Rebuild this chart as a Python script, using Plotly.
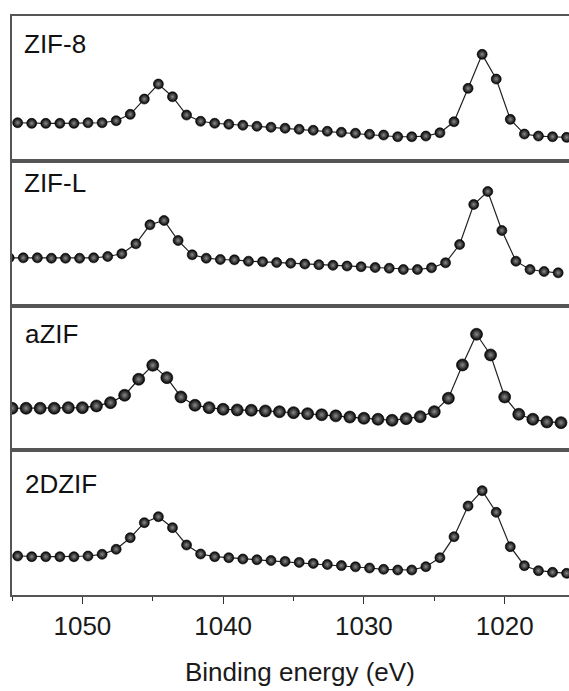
import plotly.graph_objects as go
from plotly.subplots import make_subplots

# ---------------- data (binding energy in eV, intensity in a.u.) ----------------
x_zif8 = [1054.6, 1053.6, 1052.6, 1051.6, 1050.6, 1049.6, 1048.6, 1047.6, 1046.6, 1045.6,
          1044.6, 1043.6, 1042.6, 1041.6, 1040.6, 1039.6, 1038.6, 1037.6, 1036.6, 1035.6,
          1034.6, 1033.6, 1032.6, 1031.6, 1030.6, 1029.6, 1028.6, 1027.6, 1026.6, 1025.6,
          1024.6, 1023.6, 1022.6, 1021.6, 1020.6, 1019.6, 1018.6, 1017.6, 1016.6, 1015.6]
y_zif8 = [38, 37.4, 37.4, 37.4, 37.4, 38, 38, 40, 46.4, 61.7,
          76.7, 64, 45.7, 39.5, 37.5, 36.5, 35.5, 34.5, 33.5, 32.5,
          31.5, 30.5, 29.5, 28.5, 27.5, 26.5, 25.7, 24, 24, 24.7,
          28, 39, 72.4, 106.4, 81.7, 41.4, 26.7, 24.7, 24, 23.4]

x_zifl = [1055.2, 1054.2, 1053.2, 1052.2, 1051.2, 1050.2, 1049.2, 1048.2, 1047.2, 1046.2,
          1045.2, 1044.2, 1043.2, 1042.2, 1041.2, 1040.2, 1039.2, 1038.2, 1037.2, 1036.2,
          1035.2, 1034.2, 1033.2, 1032.2, 1031.2, 1030.2, 1029.2, 1028.2, 1027.2, 1026.2,
          1025.2, 1024.2, 1023.2, 1022.2, 1021.2, 1020.2, 1019.2, 1018.2, 1017.2, 1016.2]
y_zifl = [47.7, 47.7, 47.7, 47.3, 47.3, 47.3, 47.7, 49, 51.7, 61.7,
          80.7, 85, 65, 50.7, 47.3, 46, 45.7, 44.3, 43.7, 43,
          42.3, 41.5, 40.8, 40.2, 39.5, 38.8, 38, 37.3, 36, 36,
          37.7, 42.7, 61, 101, 114, 75, 44.3, 36, 34, 32.7]

x_azif = [1055, 1054, 1053, 1052, 1051, 1050, 1049, 1048, 1047, 1046,
          1045, 1044, 1043, 1042, 1041, 1040, 1039, 1038, 1037, 1036,
          1035, 1034, 1033, 1032, 1031, 1030, 1029, 1028, 1027, 1026,
          1025, 1024, 1023, 1022, 1021, 1020, 1019, 1018, 1017, 1016]
y_azif = [42, 42, 42, 42, 42.6, 42.6, 44.3, 47.6, 55, 71,
          85, 72.6, 53.3, 45, 42.6, 41, 40.3, 40, 39.3, 38.5,
          37.6, 36.6, 35.5, 34.4, 33.2, 32, 31, 30, 31.6, 33.6,
          38.6, 52, 85.3, 116, 95.3, 53.3, 36, 31, 28.3, 27.6]

x_2dzif = [1054.6, 1053.6, 1052.6, 1051.6, 1050.6, 1049.6, 1048.6, 1047.6, 1046.6, 1045.6,
           1044.6, 1043.6, 1042.6, 1041.6, 1040.6, 1039.6, 1038.6, 1037.6, 1036.6, 1035.6,
           1034.6, 1033.6, 1032.6, 1031.6, 1030.6, 1029.6, 1028.6, 1027.6, 1026.6, 1025.6,
           1024.6, 1023.6, 1022.6, 1021.6, 1020.6, 1019.6, 1018.6, 1017.6, 1016.6, 1015.6]
y_2dzif = [39, 38.3, 38.3, 38.3, 38.3, 39, 40.7, 45.7, 57.3, 72.3,
           78.3, 67.3, 50, 41, 38.3, 37.3, 36, 35.3, 34.5, 33.6,
           32.6, 31.6, 30.5, 29.4, 28.2, 27, 25.7, 25, 25, 28.3,
           37.3, 58.3, 89, 104.3, 82.7, 48.3, 29.3, 24.3, 22.7, 21.7]

sample_names = ["ZIF-8", "ZIF-L", "aZIF", "2DZIF"]
tick_values = [1050, 1040, 1030, 1020]
tick_labels = ["1050", "1040", "1030", "1020"]
x_title = "Binding energy (eV)"

series = [(x_zif8, y_zif8), (x_zifl, y_zifl), (x_azif, y_azif), (x_2dzif, y_2dzif)]
marker_sizes = [10, 10, 12, 10]

# ---------------- figure ----------------
W, H = 569, 691
ML, MR, MT, MB = 12, 0, 16, 96
PW, PH = W - ML - MR, H - MT - MB
FONT = "Liberation Sans, Arial, sans-serif"
AX = "#555555"


def px_to_paper(px, py):
    return (px - ML) / PW, (H - MB - py) / PH


fig = make_subplots(rows=4, cols=1, shared_xaxes=True, vertical_spacing=0)

for i, (xs, ys) in enumerate(series):
    fig.add_trace(go.Scatter(
        x=xs, y=ys, mode="lines+markers", name=sample_names[i],
        line=dict(color="#222222", width=1.2),
        marker=dict(size=marker_sizes[i], color="#000000",
                    gradient=dict(type="radial", color="#8a8a8a"),
                    line=dict(color="#000000", width=0.6)),
        showlegend=False,
    ), row=i + 1, col=1)

for i in range(4):
    fig.update_xaxes(
        row=i + 1, col=1,
        range=[1055, 1015.43], showgrid=False, zeroline=False,
        showline=True, linecolor=AX, linewidth=1.6, mirror=True,
        tickmode="array", tickvals=tick_values, ticktext=tick_labels,
        ticks="outside" if i == 3 else "", ticklen=7, tickwidth=1.3, tickcolor="#333333",
        showticklabels=(i == 3),
        tickfont=dict(family=FONT, size=26, color="#1a1a1a"),
        minor=dict(dtick=5, tick0=1055, ticks="outside" if i == 3 else "",
                   ticklen=4, tickwidth=1.2, tickcolor="#333333", showgrid=False),
    )
    fig.update_yaxes(
        row=i + 1, col=1,
        range=[0, 144.75], showgrid=False, zeroline=False,
        showline=True, linecolor=AX, linewidth=1.6, mirror=False,
        ticks="", showticklabels=False,
    )

# sample labels (pixel positions converted to paper coordinates)
label_pos = [(22, 44.5), (22, 182.5), (23, 333.8), (23, 483.8)]
for name, (px, py) in zip(sample_names, label_pos):
    ax_, ay_ = px_to_paper(px, py)
    fig.add_annotation(
        text=name, xref="paper", yref="paper", x=ax_, y=ay_,
        xanchor="left", yanchor="middle", showarrow=False,
        font=dict(family=FONT, size=26, color="#111111"),
    )

# x-axis title
tx, ty = px_to_paper(300, 672)
fig.add_annotation(
    text=x_title, xref="paper", yref="paper", x=tx, y=ty,
    xanchor="center", yanchor="middle", showarrow=False,
    font=dict(family=FONT, size=26, color="#1a1a1a"),
)

fig.update_layout(
    width=W, height=H,
    margin=dict(l=ML, r=MR, t=MT, b=MB, pad=0),
    paper_bgcolor="white", plot_bgcolor="white",
    font=dict(family=FONT),
)

fig.write_html(
    "out.html",
    config={"displayModeBar": False},
    post_script="document.body.style.margin='0';document.body.style.overflow='hidden';",
)
